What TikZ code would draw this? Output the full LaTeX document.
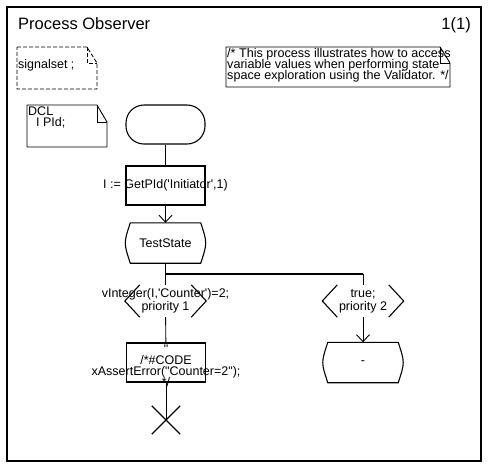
\documentclass[tikz,border=0pt]{standalone}
\usepackage{fontspec}
\newfontfamily\sdlfont{Liberation Sans}
\usetikzlibrary{arrows.meta}
\lineskiplimit=-20pt

\begin{document}
\begin{tikzpicture}[x=1pt, y=-1pt,
	font=\sdlfont\fontsize{12.5}{13}\selectfont,
	outline/.style={line width=1.1pt},
	flow/.style={line width=0.9pt},
	arrowin/.style={-{Straight Barb[length=7pt,width=13pt]}},
	startsym/.style={draw, outline, rounded corners=18pt, minimum width=79pt, minimum height=39pt},
	tasksym/.style={draw, outline, minimum width=79pt, minimum height=39pt},
	statesym/.style={minimum width=80pt, minimum height=40pt, inner sep=0pt},
	condsym/.style={minimum width=81pt, minimum height=32pt, inner sep=0pt, align=center},
	symtext/.style={inner sep=0pt, align=center},
	notetext/.style={inner sep=1pt, align=left},
	titletext/.style={inner sep=0pt, font=\sdlfont\fontsize{16.5}{18}\selectfont}]
	\useasboundingbox (0,0) rectangle (489,469);
	\draw[line width=1.8pt] (7,7) rectangle (481,461);

	\node[titletext, anchor=base west] (title) at (18,29) {Process Observer};
	\node[titletext, anchor=base east] (page) at (471,29) {1(1)};

	\node[notetext, anchor=base west] (sigset) at (17,68) {signalset ;};
	\draw[flow, dash pattern=on 4pt off 2pt] (17,47) -- (87,47) -- (97,63) -- (97,89) -- (17,89) -- cycle;
	\draw[flow, dash pattern=on 4pt off 2pt] (87,47) -- (87,63) -- (97,63);

	\node[notetext, anchor=north west, font=\sdlfont\fontsize{12.6}{10.6}\selectfont] (remark) at (226,47.5) {/* This process illustrates how to access\\variable values when performing state\\space exploration using the Validator. */};
	\draw[flow] (226,47) -- (440,47) -- (450,63) -- (450,87) -- (226,87) -- cycle;
	\draw[flow] (440,47) -- (440,63) -- (450,63);

	\node[notetext, anchor=north west, font=\sdlfont\fontsize{12.5}{11.5}\selectfont] (dcl) at (27,105.5) {DCL\\\hspace*{8pt}I PId;};
	\draw[flow] (27,105) -- (97,105) -- (107,122) -- (107,147) -- (27,147) -- cycle;
	\draw[flow] (97,105) -- (97,122) -- (107,122);

	\node[startsym] (start) at (165.5,124.5) {};
	\node[tasksym] (getpid) at (165.5,185.5) {};
	\node[symtext] (getpidtext) at (getpid) {I := GetPId('Initiator',1)};
	\node[statesym] (test) at (165.5,243) {TestState};
	\draw[outline] ([xshift=5pt]test.north west) -- ([xshift=-5pt]test.north east) .. controls ([xshift=1.7pt]test.east) .. ([xshift=-5pt]test.south east) -- ([xshift=5pt]test.south west) .. controls ([xshift=-1.7pt]test.west) .. ([xshift=5pt]test.north west) -- cycle;

	\node[condsym] (cond1) at (165.5,301) {};
	\node[symtext] (cond1text) at (cond1) {vInteger(I,'Counter')=2;\\priority 1};
	\draw[outline] ([xshift=15pt]cond1.north west) -- (cond1.west) -- ([xshift=15pt]cond1.south west);
	\draw[outline] ([xshift=-15pt]cond1.north east) -- (cond1.east) -- ([xshift=-15pt]cond1.south east);
	\node[condsym] (cond2) at (363,301) {true;\\priority 2};
	\draw[outline] ([xshift=15pt]cond2.north west) -- (cond2.west) -- ([xshift=15pt]cond2.south west);
	\draw[outline] ([xshift=-15pt]cond2.north east) -- (cond2.east) -- ([xshift=-15pt]cond2.south east);

	\node[tasksym] (code) at (166,362.5) {};
	\node[symtext, font=\sdlfont\fontsize{12.5}{11}\selectfont] (codetext) at (166,366) {"\\/*\#CODE\\xAssertError("Counter=2");\\*/};
	\node[statesym] (dash) at (363,362.5) {-};
	\draw[outline] ([xshift=5pt]dash.north west) -- ([xshift=-5pt]dash.north east) .. controls ([xshift=1.7pt]dash.east) .. ([xshift=-5pt]dash.south east) -- ([xshift=5pt]dash.south west) .. controls ([xshift=-1.7pt]dash.west) .. ([xshift=5pt]dash.north west) -- cycle;

	\node[minimum size=28pt, inner sep=0pt] (stop) at (166,420) {};
	\draw[outline] (stop.north west) -- (stop.south east) (stop.north east) -- (stop.south west);

	\coordinate (fork) at (165.5,274);
	\draw[flow] (start) -- (getpid);
	\draw[flow, arrowin] (getpid) -- (test);
	\draw[flow] (test) -- (fork) -- (cond1);
	\draw[line width=1.8pt] (fork) -- (fork -| cond2);
	\draw[flow] (fork -| cond2) -- (cond2);
	\draw[flow] (cond1) -- (code);
	\draw[flow] (code) -- (stop.center);
	\draw[flow, arrowin] (cond2) -- (dash);
\end{tikzpicture}
\end{document}
